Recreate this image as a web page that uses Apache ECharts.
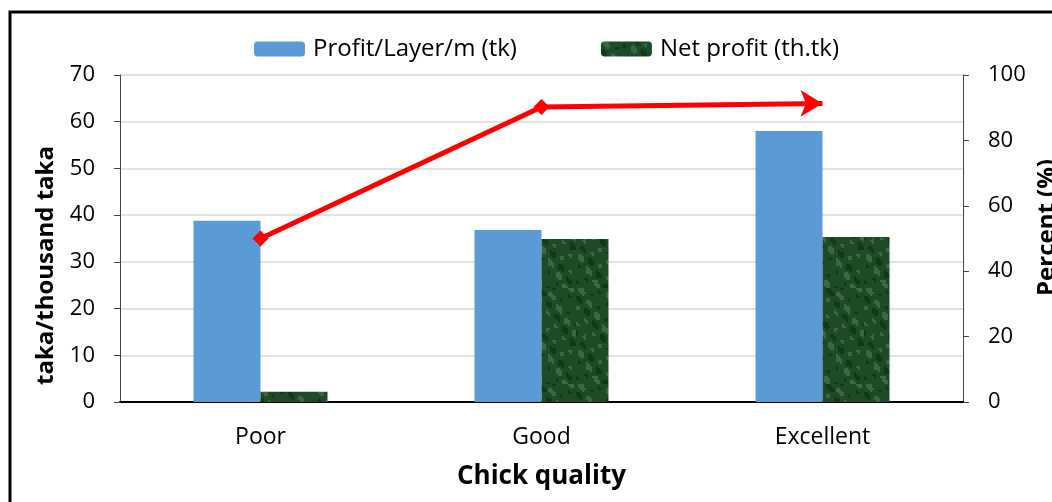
<!DOCTYPE html>
<html>
<head>
<meta charset="utf-8">
<script src="https://cdn.jsdelivr.net/npm/echarts@6/dist/echarts.min.js"></script>
<style>html,body{margin:0;padding:0;background:#fff}#c{width:1052px;height:502px}</style>
</head>
<body>
<div id="c"></div>
<script>
const categories = ['Poor', 'Good', 'Excellent'];
const profitPerLayer = [38.8, 36.8, 58.0];
const netProfit = [2.2, 34.9, 35.3];
const percent = [50.0, 90.2, 91.3];
const leftTicks = [0, 10, 20, 30, 40, 50, 60, 70];
const rightTicks = [0, 20, 40, 60, 80, 100];

function makeTexture() {
  const c = document.createElement('canvas');
  c.width = 96; c.height = 96;
  const ctx = c.getContext('2d');
  ctx.fillStyle = '#1e4a28';
  ctx.fillRect(0, 0, 96, 96);
  for (let y = 0; y < 96; y += 2) {
    for (let x = 0; x < 96; x += 2) {
      const v = Math.sin(x * 0.23 + y * 0.11) * Math.cos(x * 0.07 - y * 0.29) + 0.6 * Math.sin((x * 0.5 - y * 0.3));
      if (v > 0.75) { ctx.fillStyle = 'rgba(110,160,120,0.35)'; ctx.fillRect(x, y, 2, 2); }
      else if (v < -0.8) { ctx.fillStyle = 'rgba(8,30,12,0.45)'; ctx.fillRect(x, y, 2, 2); }
    }
  }
  return c;
}

const font = 'Open Sans';
const chart = echarts.init(document.getElementById('c'));
const lineData = percent.map((v, i) => {
  if (i === percent.length - 1) return { value: v, symbol: 'arrow', symbolRotate: -90, symbolSize: [20, 22] };
  return { value: v, symbol: 'diamond', symbolSize: 16 };
});
chart.setOption({
  animation: false,
  textStyle: { fontFamily: font },
  legend: {
    top: 32, left: 249, itemWidth: 51, itemHeight: 15, itemGap: 84,
    textStyle: { fontSize: 24, color: '#000', fontFamily: font, padding: [0, 0, 0, 3] },
    data: ['Profit/Layer/m (tk)', 'Net profit (th.tk)']
  },
  graphic: [{
    type: 'rect', shape: { x: 10, y: 12, width: 1200, height: 700 },
    style: { fill: 'none', stroke: '#000', lineWidth: 3 }, silent: true, z: 100
  }],
  grid: { left: 120, right: 89, top: 75, bottom: 100, outerBoundsMode: 'none', containLabel: false },
  xAxis: {
    type: 'category', data: categories,
    axisLine: { lineStyle: { color: '#000', width: 2 } },
    axisTick: { show: false },
    axisLabel: { fontSize: 23, color: '#000', margin: 24, fontFamily: font },
    name: 'Chick quality', nameLocation: 'middle', nameGap: 62,
    nameTextStyle: { fontSize: 26, fontWeight: 'bold', color: '#000', fontFamily: font }
  },
  yAxis: [{
    type: 'value', min: 0, max: 70, interval: 10,
    axisLine: { show: true, lineStyle: { color: '#444', width: 1 } },
    axisTick: { show: true, length: 6, lineStyle: { color: '#444' } },
    axisLabel: { fontSize: 22, color: '#000', margin: 25, fontFamily: font },
    splitLine: { lineStyle: { color: '#d9d9d9', width: 1.5 } },
    name: 'taka/thousand taka', nameLocation: 'middle', nameGap: 62, nameRotate: 90,
    nameTextStyle: { fontSize: 24, fontWeight: 'bold', color: '#000', fontFamily: font, padding: [0, 54, 0, 0] }
  }, {
    type: 'value', min: 0, max: 100, interval: 20, position: 'right',
    axisLine: { show: true, lineStyle: { color: '#444', width: 1 } },
    axisTick: { show: true, length: 6, lineStyle: { color: '#444' } },
    axisLabel: { fontSize: 22, color: '#000', margin: 25, fontFamily: font },
    splitLine: { show: false },
    name: 'Percent (%)', nameLocation: 'middle', nameGap: 72, nameRotate: 90, nameMoveOverlap: false,
    nameTextStyle: { fontSize: 24, fontWeight: 'bold', color: '#000', fontFamily: font, padding: [0, 0, 0, 22] }
  }],
  series: [{
    name: 'Profit/Layer/m (tk)', type: 'bar', data: profitPerLayer,
    barWidth: 67, barGap: '0%', itemStyle: { color: '#5b9bd5' }
  }, {
    name: 'Net profit (th.tk)', type: 'bar', data: netProfit,
    barWidth: 67, itemStyle: { color: { image: makeTexture(), repeat: 'repeat' } }
  }, {
    name: 'Percent', type: 'line', yAxisIndex: 1, data: lineData,
    lineStyle: { color: '#ff0000', width: 5 },
    itemStyle: { color: '#ff0000' }, z: 10
  }]
});
</script>
</body>
</html>
